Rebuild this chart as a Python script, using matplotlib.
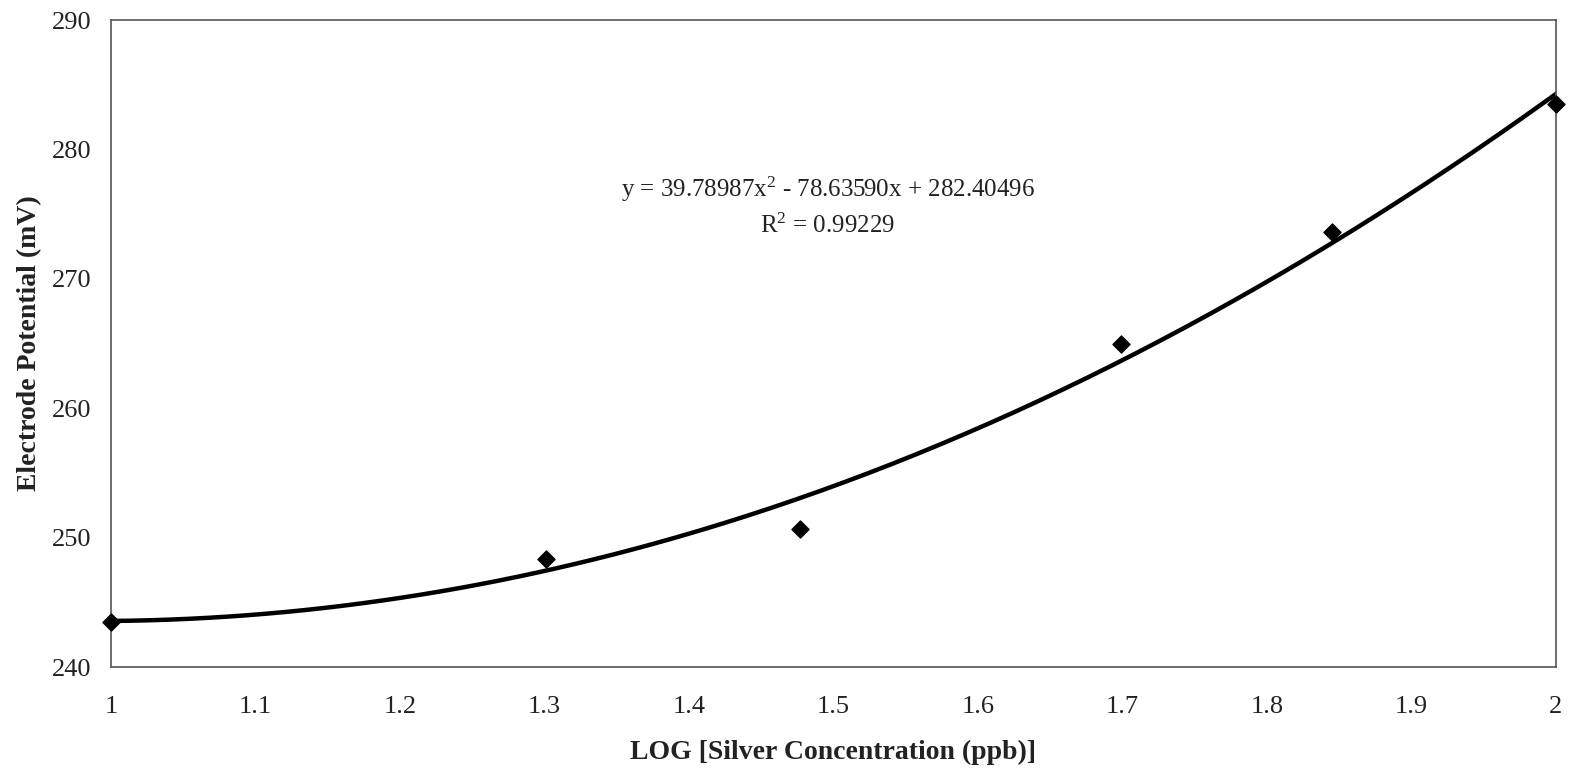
import numpy as np
import matplotlib.pyplot as plt

plt.rcParams["font.family"] = ["Liberation Serif", "DejaVu Serif"]
plt.rcParams["mathtext.fontset"] = "custom"
plt.rcParams["mathtext.rm"] = "Liberation Serif"
plt.rcParams["mathtext.it"] = "Liberation Serif:italic"

# Measured electrode potential vs log of silver concentration
log_conc = [1.0, 1.301, 1.477, 1.699, 1.845, 2.0]
potential_mv = [243.5, 248.35, 250.65, 265.0, 273.6, 283.5]

# Second-order trendline coefficients (a*x^2 + b*x + c) and fit quality
coef = [39.78987, -78.63590, 282.40496]
r_squared = 0.99229

x_ticks = [1, 1.1, 1.2, 1.3, 1.4, 1.5, 1.6, 1.7, 1.8, 1.9, 2]
x_tick_labels = ["1", "1.1", "1.2", "1.3", "1.4", "1.5", "1.6", "1.7", "1.8", "1.9", "2"]
y_ticks = [240, 250, 260, 270, 280, 290]

fig = plt.figure(figsize=(15.69, 7.72), dpi=100)
ax = fig.add_axes([0.0707, 0.136, 0.921, 0.838])

xs = np.linspace(min(log_conc), max(log_conc), 300)
ax.plot(xs, np.polyval(coef, xs), color="black", lw=3.2, zorder=2)
ax.scatter(log_conc, potential_mv, marker="D", s=75, color="black", zorder=3,
           clip_on=False)

ax.set_xlim(1, 2)
ax.set_ylim(240, 290)
ax.set_xticks(x_ticks)
ax.set_xticklabels(x_tick_labels)
ax.set_yticks(y_ticks)
ax.tick_params(length=0, labelsize=19, colors="#222222", pad=21)
ax.tick_params(axis="y", pad=14)

for s in ax.spines.values():
    s.set_color("#555555")
    s.set_linewidth(1.2)

eq = "y = {:.5f}x$^{{2}}$ - {:.5f}x + {:.5f}\nR$^{{2}}$ = {:.5f}".format(
    coef[0], -coef[1], coef[2], r_squared)
ax.text(0.496, 0.712, eq, transform=ax.transAxes, ha="center", va="center",
        fontsize=18, color="#222222", linespacing=1.55)

ax.set_xlabel("LOG [Silver Concentration (ppb)]", fontsize=20, fontweight="bold",
              color="#222222")
ax.set_ylabel("Electrode Potential (mV)", fontsize=20, fontweight="bold",
              color="#222222")
ax.xaxis.set_label_coords(0.5, -0.113)
ax.yaxis.set_label_coords(-0.0476, 0.5)

fig.savefig("out.png", dpi=100, facecolor="white")
